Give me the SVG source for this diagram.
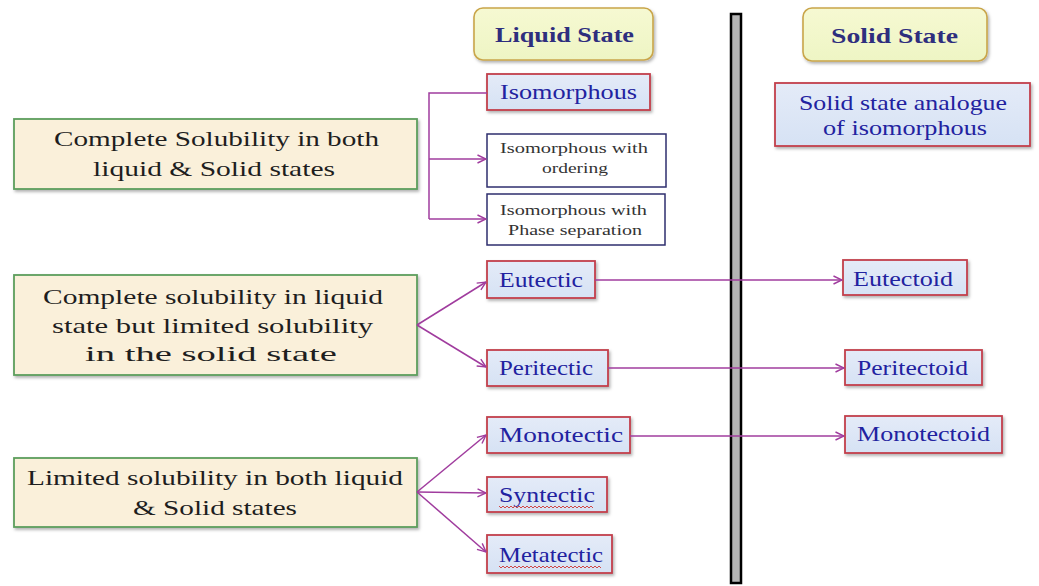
<svg xmlns="http://www.w3.org/2000/svg" width="1039" height="586" viewBox="0 0 1039 586">
<defs>
<linearGradient id="hdr" x1="0" y1="0" x2="0" y2="1"><stop offset="0" stop-color="#f6f9d2"/><stop offset="1" stop-color="#eef5c4"/></linearGradient>
<linearGradient id="blu" x1="0" y1="0" x2="0" y2="1"><stop offset="0" stop-color="#e4ebf8"/><stop offset="1" stop-color="#d6e2f4"/></linearGradient>
<filter id="sh" x="-10%" y="-20%" width="130%" height="150%"><feDropShadow dx="1.5" dy="2" stdDeviation="1.5" flood-color="#000" flood-opacity="0.3"/></filter>
<marker id="ah" viewBox="0 0 10 10" refX="9.5" refY="5" markerWidth="10" markerHeight="10" markerUnits="userSpaceOnUse" orient="auto"><path d="M1,1 L9.5,5 L1,9" fill="none" stroke="#a03c9e" stroke-width="1.4"/></marker>
</defs>
<style>
text{font-family:"Liberation Serif","DejaVu Serif","Noto Serif",serif}
.hdr{fill:url(#hdr);stroke:#c9a54a;stroke-width:1.6;filter:url(#sh)}
.hdrt{font-weight:bold;font-size:21px;fill:#2e2e7e}
.lft{fill:#faf0da;stroke:#5c9e5c;stroke-width:1.8;filter:url(#sh)}
.lftt{font-size:21px;fill:#1e1e1e}
.bl{fill:url(#blu);stroke:#c2404c;stroke-width:1.8;filter:url(#sh)}
.blt{font-size:21px;fill:#2222a0}
.sm{fill:#ffffff;stroke:#2e2e6e;stroke-width:1.5}
.smt{font-size:15px;fill:#333333}
.ln{fill:none;stroke:#a03c9e;stroke-width:1.5}
.wv{fill:none;stroke:#d04848;stroke-width:1}
</style>
<rect width="1039" height="586" fill="#ffffff"/>
<g id="divider"><rect x="731" y="14" width="10" height="569" fill="#b4b4b4" stroke="#000" stroke-width="2.5"/></g>
<g id="liquid-state"><rect class="hdr" x="474" y="8" width="179" height="52" rx="9"/><text class="hdrt" x="495" y="42" textLength="139" lengthAdjust="spacingAndGlyphs">Liquid State</text></g>
<g id="solid-state"><rect class="hdr" x="803" y="8" width="184" height="53" rx="9"/><text class="hdrt" x="831" y="43" textLength="127" lengthAdjust="spacingAndGlyphs">Solid State</text></g>
<g id="complete-both"><rect class="lft" x="14" y="119" width="403" height="70"/><text class="lftt" x="54" y="146" textLength="325" lengthAdjust="spacingAndGlyphs">Complete Solubility in both</text><text class="lftt" x="93" y="176" textLength="242" lengthAdjust="spacingAndGlyphs">liquid &amp; Solid states</text></g>
<g id="complete-liquid"><rect class="lft" x="14" y="275" width="403" height="100"/><text class="lftt" x="43" y="304" textLength="340" lengthAdjust="spacingAndGlyphs">Complete solubility in liquid</text><text class="lftt" x="52" y="333" textLength="321" lengthAdjust="spacingAndGlyphs">state but limited solubility</text><text class="lftt" x="85" y="361" textLength="252" lengthAdjust="spacingAndGlyphs">in the solid state</text></g>
<g id="limited-both"><rect class="lft" x="14" y="458" width="403" height="69"/><text class="lftt" x="27" y="485" textLength="376" lengthAdjust="spacingAndGlyphs">Limited solubility in both liquid</text><text class="lftt" x="133" y="515" textLength="164" lengthAdjust="spacingAndGlyphs">&amp; Solid states</text></g>
<g id="isomorphous"><rect class="bl" x="487" y="74" width="163" height="36"/><text class="blt" x="500" y="99" textLength="137" lengthAdjust="spacingAndGlyphs">Isomorphous</text></g>
<g id="iso-ordering"><rect class="sm" x="487" y="134" width="179" height="53"/><text class="smt" x="500" y="153" textLength="148" lengthAdjust="spacingAndGlyphs">Isomorphous with</text><text class="smt" x="542" y="173" textLength="66" lengthAdjust="spacingAndGlyphs">ordering</text></g>
<g id="iso-phase"><rect class="sm" x="487" y="194" width="178" height="51"/><text class="smt" x="500" y="215" textLength="147" lengthAdjust="spacingAndGlyphs">Isomorphous with</text><text class="smt" x="508" y="235" textLength="134" lengthAdjust="spacingAndGlyphs">Phase separation</text></g>
<g id="solid-analogue"><rect class="bl" x="775" y="83" width="255" height="63"/><text class="blt" x="799" y="110" font-size="20" textLength="208" lengthAdjust="spacingAndGlyphs">Solid state analogue</text><text class="blt" x="823" y="135" font-size="20" textLength="164" lengthAdjust="spacingAndGlyphs">of  isomorphous</text></g>
<g id="eutectic"><rect class="bl" x="487" y="261" width="108" height="37"/><text class="blt" x="499" y="287" textLength="84" lengthAdjust="spacingAndGlyphs">Eutectic</text></g>
<g id="peritectic"><rect class="bl" x="487" y="350" width="121" height="36"/><text class="blt" x="499" y="375" textLength="94" lengthAdjust="spacingAndGlyphs">Peritectic</text></g>
<g id="monotectic"><rect class="bl" x="487" y="417" width="143" height="36"/><text class="blt" x="499" y="442" textLength="124" lengthAdjust="spacingAndGlyphs">Monotectic</text></g>
<g id="syntectic"><rect class="bl" x="487" y="477" width="120" height="35"/><text class="blt" x="499" y="502" textLength="96" lengthAdjust="spacingAndGlyphs">Syntectic</text><path class="wv" d="M499,506 l2,2 l2,-2 l2,2 l2,-2 l2,2 l2,-2 l2,2 l2,-2 l2,2 l2,-2 l2,2 l2,-2 l2,2 l2,-2 l2,2 l2,-2 l2,2 l2,-2 l2,2 l2,-2 l2,2 l2,-2 l2,2 l2,-2 l2,2 l2,-2 l2,2 l2,-2 l2,2 l2,-2 l2,2 l2,-2 l2,2 l2,-2 l2,2 l2,-2 l2,2 l2,-2 l2,2 l2,-2 l2,2 l2,-2 l2,2 l2,-2 l2,2 l2,-2 l2,2"/></g>
<g id="metatectic"><rect class="bl" x="487" y="535" width="125" height="38"/><text class="blt" x="499" y="562" textLength="104" lengthAdjust="spacingAndGlyphs">Metatectic</text><path class="wv" d="M499,566 l2,2 l2,-2 l2,2 l2,-2 l2,2 l2,-2 l2,2 l2,-2 l2,2 l2,-2 l2,2 l2,-2 l2,2 l2,-2 l2,2 l2,-2 l2,2 l2,-2 l2,2 l2,-2 l2,2 l2,-2 l2,2 l2,-2 l2,2 l2,-2 l2,2 l2,-2 l2,2 l2,-2 l2,2 l2,-2 l2,2 l2,-2 l2,2 l2,-2 l2,2 l2,-2 l2,2 l2,-2 l2,2 l2,-2 l2,2 l2,-2 l2,2 l2,-2 l2,2 l2,-2 l2,2 l2,-2 l2,2"/></g>
<g id="eutectoid"><rect class="bl" x="843" y="260" width="124" height="35"/><text class="blt" x="853" y="286" textLength="100" lengthAdjust="spacingAndGlyphs">Eutectoid</text></g>
<g id="peritectoid"><rect class="bl" x="845" y="350" width="137" height="35"/><text class="blt" x="857" y="375" textLength="111" lengthAdjust="spacingAndGlyphs">Peritectoid</text></g>
<g id="monotectoid"><rect class="bl" x="845" y="416" width="157" height="37"/><text class="blt" x="857" y="441" textLength="133" lengthAdjust="spacingAndGlyphs">Monotectoid</text></g>
<g id="connectors">
<path class="ln" d="M487,93 H429 V219"/>
<path class="ln" d="M429,159 H486" marker-end="url(#ah)"/>
<path class="ln" d="M429,219 H486" marker-end="url(#ah)"/>
<path class="ln" d="M417,325 L486,282" marker-end="url(#ah)"/>
<path class="ln" d="M417,325 L486,367" marker-end="url(#ah)"/>
<path class="ln" d="M417,492 L486,435" marker-end="url(#ah)"/>
<path class="ln" d="M417,492 L486,493" marker-end="url(#ah)"/>
<path class="ln" d="M417,492 L486,552" marker-end="url(#ah)"/>
<path class="ln" d="M595,280 H842" marker-end="url(#ah)"/>
<path class="ln" d="M608,368 H844" marker-end="url(#ah)"/>
<path class="ln" d="M630,436 H844" marker-end="url(#ah)"/>
</g>
</svg>
